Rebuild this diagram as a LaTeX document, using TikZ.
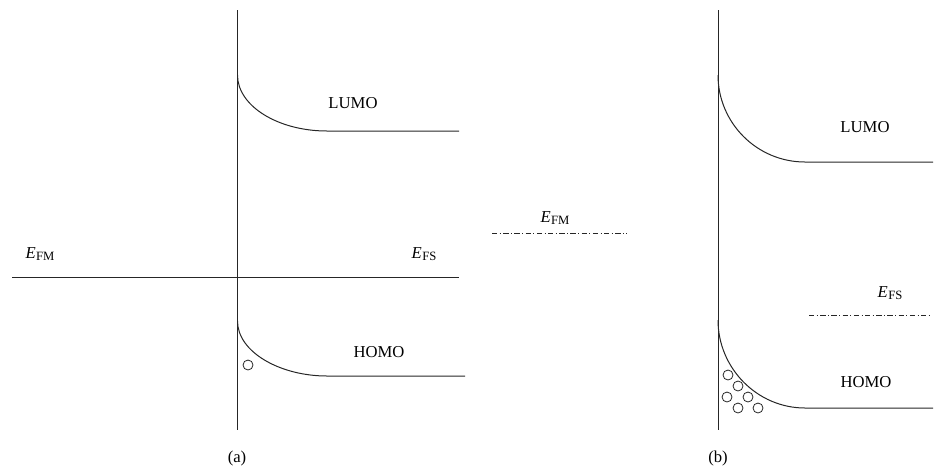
\documentclass[tikz,border=0pt]{standalone}
\usepackage{fontspec}
\setmainfont{Liberation Serif}
\newcommand{\enlev}[1]{\textit{E}\kern0.03em\raisebox{-0.35ex}{\fontsize{9.5}{9.5}\selectfont #1}}
\begin{document}
\begin{tikzpicture}[
  x=0.75pt, y=-0.75pt,
  band/.style={line width=0.75pt, black!85},
  fermi/.style={line width=0.6pt, black!85, dash pattern=on 4pt off 1.8pt on 0.8pt off 1.8pt},
  hole/.style={line width=0.6pt, black!85},
  lbl/.style={font=\fontsize{12.5}{14}\selectfont, anchor=base, inner sep=0pt}
]
  \useasboundingbox (0,0) rectangle (935,469);

  % (a) metal / organic contact
  \draw[band] (237.5,10) -- (237.5,430);
  \draw[band] (237.5,75) .. controls (237.5,106) and (278,131) .. (327,131) -- (459,131);
  \draw[band] (12,277.5) -- (459,277.5);
  \draw[band] (237.5,321) .. controls (237.5,352) and (280,376) .. (327,376) -- (465,376);
  \draw[hole] (248,365) circle[radius=3.75pt];

  \node[lbl] (lumoA) at (353,108) {LUMO};
  \node[lbl] (homoA) at (379,357) {HOMO};
  \node[lbl] (efmA) at (40,258) {\enlev{FM}};
  \node[lbl] (efsA) at (424,258) {\enlev{FS}};
  \node[lbl] (capA) at (237,462) {(a)};

  % vacuum level of the metal
  \node[lbl] (efmM) at (555,222) {\enlev{FM}};
  \draw[fermi] (492,233.5) -- (627,233.5);

  % (b) after band bending
  \draw[band] (718,10) -- (718,430);
  \draw[band] (718,75) .. controls (718,123) and (757,162) .. (805,162) -- (933,162);
  \draw[band] (718,320) .. controls (718,368) and (757,408) .. (805,408) -- (933,408);
  \foreach \hx/\hy in {728/375, 738/386, 727/397, 748/397, 738/408, 758/408}
    \draw[hole] (\hx,\hy) circle[radius=3.75pt];

  \node[lbl] (lumoB) at (865,132) {LUMO};
  \node[lbl] (homoB) at (866,387) {HOMO};
  \node[lbl] (efsB) at (890,297) {\enlev{FS}};
  \draw[fermi] (809,315.5) -- (930,315.5);
  \node[lbl] (capB) at (718,462) {(b)};
\end{tikzpicture}
\end{document}
